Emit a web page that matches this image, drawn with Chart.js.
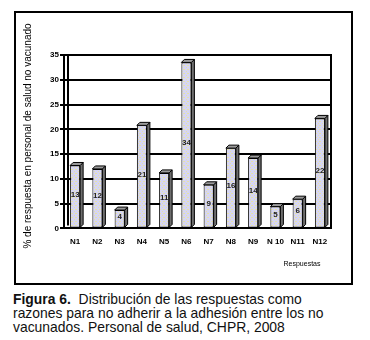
<!DOCTYPE html>
<html>
<head>
<meta charset="utf-8">
<script src="https://cdn.jsdelivr.net/npm/chart.js@4.4.1/dist/chart.umd.min.js"></script>
<style>
  body { margin: 0; background: #fff; font-family: "Liberation Sans", Arial, sans-serif; }
  #frame { position: absolute; left: 14px; top: 11px; width: 335px; height: 270px; border: 2px solid #000; }
  #caption { position: absolute; left: 13px; top: 292px; width: 350px; font-size: 13.9px; line-height: 14px; color: #111; }
</style>
</head>
<body>
<div id="frame"><canvas id="chart" width="335" height="270"></canvas></div>
<div id="caption"><b>Figura 6.</b>&nbsp; Distribución de las respuestas como<br>razones para no adherir a la adhesión entre los no<br>vacunados. Personal de salud, CHPR, 2008</div>
<script>
// ── Data ─────────────────────────────────────────────
const categories = ["N1", "N2", "N3", "N4", "N5", "N6", "N7", "N8", "N9", "N 10", "N11", "N12"];
const values     = [12.7, 12.0, 3.7, 20.8, 11.2, 33.5, 8.8, 16.2, 14.2, 4.4, 5.9, 22.2];
const valueLabels = ["13", "12", "4", "21", "11", "34", "9", "16", "14", "5", "6", "22"];
const yTicks     = [0, 5, 10, 15, 20, 25, 30, 35];

// dotted lavender / yellow fill like the original print
function makePattern() {
  const p = document.createElement("canvas");
  p.width = 4; p.height = 4;
  const c = p.getContext("2d");
  c.fillStyle = "#d6d6f2";
  c.fillRect(0, 0, 4, 4);
  c.fillStyle = "#e6e2a8";
  c.fillRect(0, 0, 1, 1);
  c.fillRect(2, 2, 1, 1);
  c.fillRect(3, 0, 1, 1);
  return c.createPattern(p, "repeat");
}

// 3D side + top of the bars, value labels and extra texts
const decor = {
  id: "decor",
  beforeDatasetsDraw(chart) {
    const ctx = chart.ctx;
    const meta = chart.getDatasetMeta(0);
    const a = chart.chartArea;
    const d = 3;
    ctx.save();
    // back wall edge of the 3D plot
    ctx.strokeStyle = "#000"; ctx.lineWidth = 2;
    ctx.beginPath();
    ctx.moveTo(a.left + 4, a.top); ctx.lineTo(a.left + 4, a.bottom - 3);
    ctx.stroke();
    meta.data.forEach(bar => {
      const l = bar.x - bar.width / 2, r = bar.x + bar.width / 2;
      const top = bar.y, base = bar.base;
      // side
      ctx.beginPath();
      ctx.moveTo(r, top); ctx.lineTo(r + d, top - d);
      ctx.lineTo(r + d, base - d); ctx.lineTo(r, base);
      ctx.closePath();
      ctx.fillStyle = "#6e6e6e"; ctx.fill();
      ctx.strokeStyle = "#000"; ctx.lineWidth = 1; ctx.stroke();
      // top
      ctx.beginPath();
      ctx.moveTo(l, top); ctx.lineTo(l + d, top - d);
      ctx.lineTo(r + d, top - d); ctx.lineTo(r, top);
      ctx.closePath();
      ctx.fillStyle = "#9a9a9a"; ctx.fill(); ctx.stroke();
    });
    ctx.restore();
  },
  afterDatasetsDraw(chart) {
    const ctx = chart.ctx;
    const meta = chart.getDatasetMeta(0);
    ctx.save();
    ctx.font = "bold 8px 'Liberation Sans', Arial";
    ctx.fillStyle = "#222";
    ctx.textAlign = "center";
    ctx.textBaseline = "middle";
    meta.data.forEach((bar, i) => {
      ctx.fillText(valueLabels[i], bar.x, (bar.y + bar.base) / 2 - 2);
    });
    // y title
    ctx.font = "10px 'Liberation Sans', Arial";
    ctx.fillStyle = "#000";
    ctx.translate(12, 123);
    ctx.rotate(-Math.PI / 2);
    ctx.fillText("% de respuesta en personal de salud no vacunado", 0, 0);
    ctx.restore();
    ctx.save();
    ctx.font = "7px 'Liberation Sans', Arial";
    ctx.fillStyle = "#000";
    ctx.textAlign = "center";
    ctx.fillText("Respuestas", 286, 253);
    ctx.restore();
  }
};

new Chart(document.getElementById("chart"), {
  type: "bar",
  data: {
    labels: categories,
    datasets: [{
      data: values,
      backgroundColor: makePattern(),
      borderColor: "#000",
      borderWidth: 1,
      borderSkipped: false,
      categoryPercentage: 0.9,
      barPercentage: 0.5
    }]
  },
  options: {
    responsive: false,
    animation: false,
    layout: { padding: { left: 0, right: 20, top: 42, bottom: 35 } },
    plugins: { legend: { display: false }, tooltip: { enabled: false } },
    scales: {
      x: {
        grid: { display: false, drawTicks: true },
        border: { color: "#000", width: 2 },
        ticks: { color: "#000", font: { size: 8, weight: "bold", family: "'Liberation Sans', Arial" }, padding: 1, maxRotation: 0, autoSkip: false }
      },
      y: {
        min: 0, max: 35,
        afterBuildTicks: axis => { axis.ticks = yTicks.map(v => ({ value: v })); },
        afterFit: axis => { axis.width = 48; },
        grid: { color: "#000", lineWidth: 2, tickLength: 4, tickColor: "#000" },
        border: { color: "#000", width: 2 },
        ticks: { color: "#000", font: { size: 8, weight: "bold", family: "'Liberation Sans', Arial" }, padding: 1 }
      }
    }
  },
  plugins: [decor, {
    id: "box",
    afterDraw(chart) {
      const a = chart.chartArea, ctx = chart.ctx;
      ctx.save();
      ctx.strokeStyle = "#000"; ctx.lineWidth = 2;
      ctx.beginPath();
      ctx.moveTo(a.left, a.top); ctx.lineTo(a.right, a.top); ctx.lineTo(a.right, a.bottom);
      ctx.stroke();
      ctx.restore();
    }
  }]
});
</script>
</body>
</html>
